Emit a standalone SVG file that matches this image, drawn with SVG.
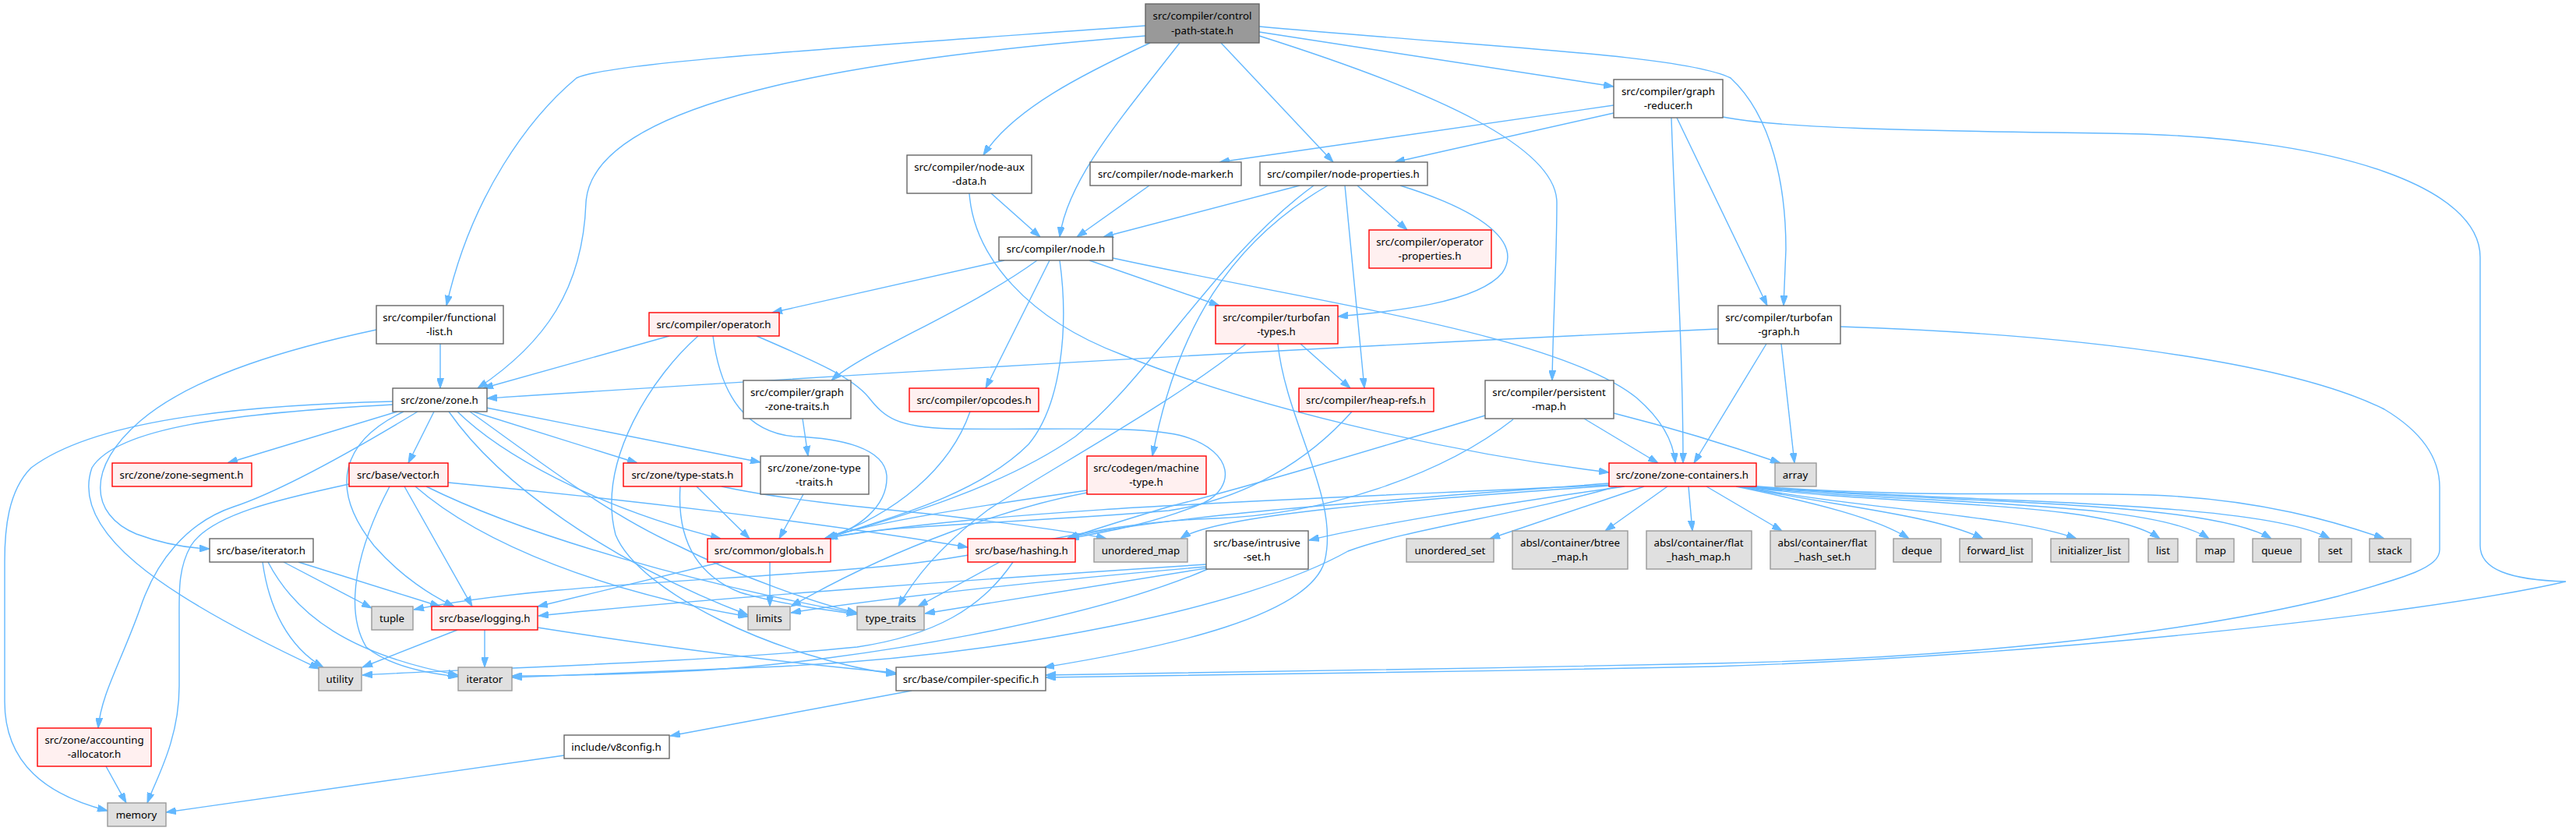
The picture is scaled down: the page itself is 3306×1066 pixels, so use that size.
<svg xmlns="http://www.w3.org/2000/svg" width="3306" height="1066" viewBox="0 0 3306 1066">
<style>
.nw{fill:#ffffff;stroke:#666666;stroke-width:1.4}
.nr{fill:#fff0f0;stroke:#ff0000;stroke-width:1.4}
.ng{fill:#e0e0e0;stroke:#999999;stroke-width:1.4}
.root{fill:#999999;stroke:#666666;stroke-width:1.4}
text{font-family:"Noto Sans","Liberation Sans",sans-serif;font-size:13.3px;fill:#000;text-anchor:middle;dominant-baseline:central}
.e{fill:none;stroke:#63b8ff;stroke-width:1.4;marker-end:url(#ah)}
</style>
<defs>
<marker id="ah" viewBox="0 0 13 9" refX="13" refY="4.5" markerWidth="13" markerHeight="9" markerUnits="userSpaceOnUse" orient="auto">
<path d="M0,0 L13,4.5 L0,9 z" fill="#63b8ff" stroke="#63b8ff"/>
</marker>
</defs>
<rect width="3306" height="1066" fill="#ffffff"/>
<g id="edges">
<path class="e" d="M1470,33 C1100,60 780,80 740,100 C680,150 605,250 573,392"/>
<path class="e" d="M1470,46 C1150,72 760,120 752,260 C748,370 700,440 613,498"/>
<path class="e" d="M1476,55 C1390,95 1300,140 1262,199"/>
<path class="e" d="M1514,55 C1440,150 1370,230 1360,304"/>
<path class="e" d="M1567,55 L1711,208"/>
<path class="e" d="M1616,46 C1850,120 1998,190 1998,260 C1998,330 1993,420 1992,488"/>
<path class="e" d="M1616,41 L2071,111"/>
<path class="e" d="M1616,34 C1900,60 2160,70 2221,100 C2275,150 2292,240 2292,320 L2289,392"/>
<path class="e" d="M2071,135 L1565,208"/>
<path class="e" d="M2071,145 L1790,208"/>
<path class="e" d="M2145,151 C2150,300 2160,450 2160,594"/>
<path class="e" d="M2152,151 L2268,392"/>
<path class="e" d="M2211,150 C2300,168 2550,168 2750,172 C3000,180 3183,240 3183,330 L3183,700 C3183,730 3220,744 3293,746 C3100,790 2600,842 2200,855 C1900,862 1500,866 1342,869"/>
<path class="e" d="M2205,422 C1700,445 1100,480 625,511"/>
<path class="e" d="M2267,441 L2174,594"/>
<path class="e" d="M2286,441 L2303,594"/>
<path class="e" d="M2362,419 C2700,430 2950,470 3060,525 C3110,555 3131,590 3131,625 L3131,705 C3131,728 3090,740 3000,765 C2800,815 2500,845 2200,851 C1900,858 1500,863 1342,866"/>
<path class="e" d="M1272,248 L1335,304"/>
<path class="e" d="M1244,248 C1250,330 1320,410 1440,455 C1600,520 1850,580 2065,606"/>
<path class="e" d="M1475,238 L1382,304"/>
<path class="e" d="M1668,238 L1416,304"/>
<path class="e" d="M1686,238 C1560,330 1480,480 1380,560 C1280,630 1130,670 1058,691"/>
<path class="e" d="M1704,238 C1580,310 1510,420 1479,585"/>
<path class="e" d="M1726,238 L1751,498"/>
<path class="e" d="M1742,238 L1806,295"/>
<path class="e" d="M1797,238 C1900,270 1955,310 1928,350 C1895,390 1780,400 1717,406"/>
<path class="e" d="M1289,334 L991,401"/>
<path class="e" d="M1331,334 C1240,400 1110,450 1067,488"/>
<path class="e" d="M1347,334 L1265,498"/>
<path class="e" d="M1360,334 C1372,420 1362,520 1320,570 C1250,640 1120,670 1060,691"/>
<path class="e" d="M1398,334 L1565,392"/>
<path class="e" d="M1428,331 C1700,390 2000,430 2100,510 C2135,540 2148,570 2150,594"/>
<path class="e" d="M565,441 L565,498"/>
<path class="e" d="M483,423 C380,445 250,480 180,540 C110,600 115,660 175,685 C210,698 240,703 269,704"/>
<path class="e" d="M859,431 L620,498"/>
<path class="e" d="M896,431 C840,480 765,590 790,686 C820,760 1000,845 1150,865"/>
<path class="e" d="M971,431 C1050,465 1095,485 1115,510 C1135,535 1150,548 1220,550 C1350,552 1470,545 1520,560 C1585,580 1585,625 1545,645 C1480,672 1420,682 1372,691"/>
<path class="e" d="M915,431 C925,510 960,555 1020,560 C1080,562 1135,575 1138,610 C1140,650 1100,680 1058,691"/>
<path class="e" d="M1030,537 L1037,585"/>
<path class="e" d="M1031,634 L1000,691"/>
<path class="e" d="M504,515 C300,520 120,540 40,600 C10,630 6,680 6,720 L6,900 C6,980 60,1020 138,1040"/>
<path class="e" d="M504,519 C300,530 150,548 118,600 C90,680 200,760 410,858"/>
<path class="e" d="M510,528 L292,594"/>
<path class="e" d="M536,528 C450,580 360,630 300,650 C240,670 200,720 180,780 C155,850 130,890 126,934"/>
<path class="e" d="M557,528 L524,594"/>
<path class="e" d="M518,528 C440,565 420,625 480,700 C515,740 555,765 583,778"/>
<path class="e" d="M576,528 C640,620 780,720 960,789"/>
<path class="e" d="M587,528 C640,580 760,650 925,691"/>
<path class="e" d="M603,528 C690,590 780,660 870,700 C950,740 1050,775 1100,786"/>
<path class="e" d="M607,528 L818,594"/>
<path class="e" d="M624,523 L976,593"/>
<path class="e" d="M448,621 C360,640 270,660 245,700 C228,730 230,760 230,800 L230,880 C230,950 200,1000 189,1030"/>
<path class="e" d="M500,624 C460,700 440,780 470,830 C500,855 550,864 588,868"/>
<path class="e" d="M519,624 L606,778"/>
<path class="e" d="M533,624 C620,700 780,760 960,791"/>
<path class="e" d="M547,624 C680,690 900,750 1100,787"/>
<path class="e" d="M575,619 C800,640 1050,670 1242,702"/>
<path class="e" d="M894,624 L962,691"/>
<path class="e" d="M873,624 C868,700 900,740 950,760 C1000,775 1060,782 1100,788"/>
<path class="e" d="M926,624 C1000,640 1100,650 1200,660 C1300,672 1380,682 1420,691"/>
<path class="e" d="M926,721 L690,778"/>
<path class="e" d="M988,721 L988,778"/>
<path class="e" d="M1283,721 L1178,778"/>
<path class="e" d="M1300,721 C1260,780 1200,815 1100,830 C900,850 600,858 465,866"/>
<path class="e" d="M337,721 C345,780 370,830 415,856"/>
<path class="e" d="M344,721 C380,790 450,840 588,866"/>
<path class="e" d="M364,721 L477,780"/>
<path class="e" d="M383,721 L565,778"/>
<path class="e" d="M587,808 L465,856"/>
<path class="e" d="M622,808 L622,856"/>
<path class="e" d="M690,805 C850,830 1000,850 1150,863"/>
<path class="e" d="M136,983 L162,1030"/>
<path class="e" d="M724,969 L213,1042"/>
<path class="e" d="M1170,886 L860,944"/>
<path class="e" d="M1245,528 C1220,600 1150,660 1060,690"/>
<path class="e" d="M1669,441 L1733,498"/>
<path class="e" d="M1640,441 C1650,540 1720,640 1700,720 C1680,790 1500,830 1340,856"/>
<path class="e" d="M1599,441 C1500,520 1350,600 1268,654 C1220,690 1180,730 1153,778"/>
<path class="e" d="M2033,537 L2128,594"/>
<path class="e" d="M2071,530 C2150,550 2230,575 2285,594"/>
<path class="e" d="M1906,533 C1750,580 1600,625 1500,650 C1440,668 1400,680 1370,691"/>
<path class="e" d="M1942,538 C1850,610 1700,660 1560,665 C1400,670 1300,710 1150,725 C950,745 700,748 531,782"/>
<path class="e" d="M1395,629 C1250,650 1120,670 1060,690"/>
<path class="e" d="M1395,632 C1300,650 1150,700 1015,778"/>
<path class="e" d="M1735,528 C1680,590 1600,640 1500,655 C1300,672 1150,672 1062,690"/>
<path class="e" d="M2065,620 C1800,640 1500,660 1370,690"/>
<path class="e" d="M2065,622 C1700,640 1300,650 1062,690"/>
<path class="e" d="M2066,623 C1800,642 1560,660 1515,691"/>
<path class="e" d="M2085,624 C1900,650 1750,676 1680,693"/>
<path class="e" d="M2110,624 L1912,691"/>
<path class="e" d="M2140,624 L2060,681"/>
<path class="e" d="M2167,624 L2172,681"/>
<path class="e" d="M2190,624 L2287,681"/>
<path class="e" d="M2075,624 C1950,660 1800,680 1730,707 C1600,780 1300,840 1000,855 C850,862 720,866 657,869"/>
<path class="e" d="M2228,624 C2330,645 2410,665 2450,691"/>
<path class="e" d="M2232,624 C2360,650 2480,660 2545,691"/>
<path class="e" d="M2236,624 C2400,655 2580,660 2665,691"/>
<path class="e" d="M2238,624 C2420,650 2700,640 2772,691"/>
<path class="e" d="M2240,624 C2450,648 2760,640 2835,691"/>
<path class="e" d="M2242,624 C2480,646 2830,640 2915,691"/>
<path class="e" d="M2244,624 C2500,645 2900,640 2990,691"/>
<path class="e" d="M2245,623 C2450,640 2650,630 2760,635 C2900,640 3000,670 3060,691"/>
<path class="e" d="M1548,724 C1300,740 900,768 691,790"/>
<path class="e" d="M1548,727 C1300,748 1100,772 1015,786"/>
<path class="e" d="M1548,729 C1400,752 1250,776 1187,787"/>
<path class="e" d="M1550,730 C1400,795 1100,848 900,860 C800,865 700,867 657,867"/>
</g>
<g id="n_cps"><rect class="root" x="1470" y="5" width="146" height="50"/><text x="1543" y="20">src/compiler/control</text><text x="1543" y="39">-path-state.h</text></g>
<g id="n_graph_reducer"><rect class="nw" x="2071" y="102" width="140" height="49"/><text x="2141" y="117">src/compiler/graph</text><text x="2141" y="135">-reducer.h</text></g>
<g id="n_node_aux"><rect class="nw" x="1164" y="199" width="160" height="49"/><text x="1244" y="214">src/compiler/node-aux</text><text x="1244" y="232">-data.h</text></g>
<g id="n_node_marker"><rect class="nw" x="1399" y="208" width="194" height="30"/><text x="1496" y="223">src/compiler/node-marker.h</text></g>
<g id="n_node_props"><rect class="nw" x="1617" y="208" width="215" height="30"/><text x="1724" y="223">src/compiler/node-properties.h</text></g>
<g id="n_node"><rect class="nw" x="1282" y="304" width="146" height="30"/><text x="1355" y="319">src/compiler/node.h</text></g>
<g id="n_op_props"><rect class="nr" x="1757" y="295" width="157" height="49"/><text x="1835" y="310">src/compiler/operator</text><text x="1835" y="328">-properties.h</text></g>
<g id="n_functional"><rect class="nw" x="483" y="392" width="163" height="49"/><text x="564" y="407">src/compiler/functional</text><text x="564" y="425">-list.h</text></g>
<g id="n_operator"><rect class="nr" x="833" y="401" width="167" height="30"/><text x="916" y="416">src/compiler/operator.h</text></g>
<g id="n_tf_types"><rect class="nr" x="1560" y="392" width="157" height="49"/><text x="1638" y="407">src/compiler/turbofan</text><text x="1638" y="425">-types.h</text></g>
<g id="n_tf_graph"><rect class="nw" x="2205" y="392" width="157" height="49"/><text x="2283" y="407">src/compiler/turbofan</text><text x="2283" y="425">-graph.h</text></g>
<g id="n_zone"><rect class="nw" x="504" y="498" width="121" height="30"/><text x="564" y="513">src/zone/zone.h</text></g>
<g id="n_gzt"><rect class="nw" x="954" y="488" width="138" height="49"/><text x="1023" y="503">src/compiler/graph</text><text x="1023" y="521">-zone-traits.h</text></g>
<g id="n_opcodes"><rect class="nr" x="1167" y="498" width="166" height="30"/><text x="1250" y="513">src/compiler/opcodes.h</text></g>
<g id="n_heap_refs"><rect class="nr" x="1667" y="498" width="173" height="30"/><text x="1753" y="513">src/compiler/heap-refs.h</text></g>
<g id="n_pmap"><rect class="nw" x="1906" y="488" width="165" height="49"/><text x="1988" y="503">src/compiler/persistent</text><text x="1988" y="521">-map.h</text></g>
<g id="n_zone_segment"><rect class="nr" x="144" y="594" width="179" height="30"/><text x="233" y="609">src/zone/zone-segment.h</text></g>
<g id="n_vector"><rect class="nr" x="448" y="594" width="127" height="30"/><text x="511" y="609">src/base/vector.h</text></g>
<g id="n_type_stats"><rect class="nr" x="800" y="594" width="152" height="30"/><text x="876" y="609">src/zone/type-stats.h</text></g>
<g id="n_ztt"><rect class="nw" x="976" y="585" width="139" height="49"/><text x="1045" y="600">src/zone/zone-type</text><text x="1045" y="618">-traits.h</text></g>
<g id="n_machine_type"><rect class="nr" x="1395" y="585" width="153" height="49"/><text x="1471" y="600">src/codegen/machine</text><text x="1471" y="618">-type.h</text></g>
<g id="n_zone_containers"><rect class="nr" x="2065" y="594" width="189" height="30"/><text x="2159" y="609">src/zone/zone-containers.h</text></g>
<g id="n_array"><rect class="ng" x="2278" y="594" width="53" height="30"/><text x="2304" y="609">array</text></g>
<g id="n_iterator_h"><rect class="nw" x="269" y="691" width="133" height="30"/><text x="335" y="706">src/base/iterator.h</text></g>
<g id="n_globals"><rect class="nr" x="908" y="691" width="158" height="30"/><text x="987" y="706">src/common/globals.h</text></g>
<g id="n_hashing"><rect class="nr" x="1242" y="691" width="138" height="30"/><text x="1311" y="706">src/base/hashing.h</text></g>
<g id="n_unordered_map"><rect class="ng" x="1404" y="691" width="120" height="30"/><text x="1464" y="706">unordered_map</text></g>
<g id="n_intrusive"><rect class="nw" x="1548" y="681" width="131" height="49"/><text x="1613" y="696">src/base/intrusive</text><text x="1613" y="714">-set.h</text></g>
<g id="n_unordered_set"><rect class="ng" x="1805" y="691" width="112" height="30"/><text x="1861" y="706">unordered_set</text></g>
<g id="n_btree"><rect class="ng" x="1941" y="681" width="148" height="49"/><text x="2015" y="696">absl/container/btree</text><text x="2015" y="714">_map.h</text></g>
<g id="n_fhm"><rect class="ng" x="2113" y="681" width="135" height="49"/><text x="2180" y="696">absl/container/flat</text><text x="2180" y="714">_hash_map.h</text></g>
<g id="n_fhs"><rect class="ng" x="2272" y="681" width="135" height="49"/><text x="2339" y="696">absl/container/flat</text><text x="2339" y="714">_hash_set.h</text></g>
<g id="n_deque"><rect class="ng" x="2430" y="691" width="61" height="30"/><text x="2460" y="706">deque</text></g>
<g id="n_forward_list"><rect class="ng" x="2515" y="691" width="93" height="30"/><text x="2561" y="706">forward_list</text></g>
<g id="n_init_list"><rect class="ng" x="2632" y="691" width="100" height="30"/><text x="2682" y="706">initializer_list</text></g>
<g id="n_list"><rect class="ng" x="2757" y="691" width="38" height="30"/><text x="2776" y="706">list</text></g>
<g id="n_map"><rect class="ng" x="2819" y="691" width="48" height="30"/><text x="2843" y="706">map</text></g>
<g id="n_queue"><rect class="ng" x="2891" y="691" width="62" height="30"/><text x="2922" y="706">queue</text></g>
<g id="n_set"><rect class="ng" x="2976" y="691" width="42" height="30"/><text x="2997" y="706">set</text></g>
<g id="n_stack"><rect class="ng" x="3041" y="691" width="53" height="30"/><text x="3067" y="706">stack</text></g>
<g id="n_tuple"><rect class="ng" x="477" y="778" width="53" height="30"/><text x="503" y="793">tuple</text></g>
<g id="n_logging"><rect class="nr" x="554" y="778" width="136" height="30"/><text x="622" y="793">src/base/logging.h</text></g>
<g id="n_limits"><rect class="ng" x="960" y="778" width="54" height="30"/><text x="987" y="793">limits</text></g>
<g id="n_type_traits"><rect class="ng" x="1100" y="778" width="86" height="30"/><text x="1143" y="793">type_traits</text></g>
<g id="n_utility"><rect class="ng" x="409" y="856" width="55" height="30"/><text x="436" y="871">utility</text></g>
<g id="n_iterator"><rect class="ng" x="588" y="856" width="69" height="30"/><text x="622" y="871">iterator</text></g>
<g id="n_compiler_specific"><rect class="nw" x="1150" y="856" width="192" height="30"/><text x="1246" y="871">src/base/compiler-specific.h</text></g>
<g id="n_accounting"><rect class="nr" x="48" y="934" width="146" height="49"/><text x="121" y="949">src/zone/accounting</text><text x="121" y="967">-allocator.h</text></g>
<g id="n_v8config"><rect class="nw" x="724" y="943" width="135" height="30"/><text x="791" y="958">include/v8config.h</text></g>
<g id="n_memory"><rect class="ng" x="138" y="1030" width="75" height="30"/><text x="175" y="1045">memory</text></g>
</svg>
